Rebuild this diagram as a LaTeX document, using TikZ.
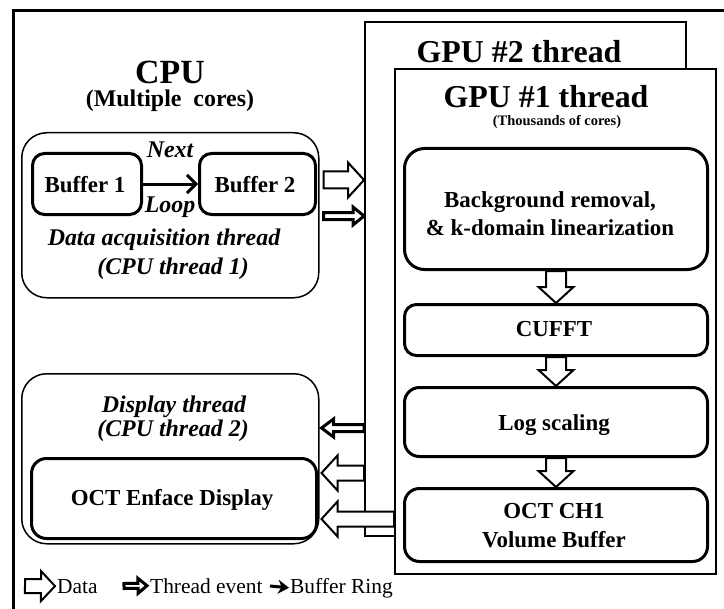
\documentclass[tikz,border=0pt]{standalone}
\usepackage{fontspec}
\setmainfont{Liberation Serif}
\usetikzlibrary{calc,arrows.meta}
\newcommand\blockarr[6]{% style, from, to, shaft half, head half, head length
  \path ($(#3)!#6!(#2)$) coordinate (bh);
  \draw[#1] ($(#2)!#4!90:(#3)$) -- ($(bh)!#4!90:(#3)$) -- ($(bh)!#5!90:(#3)$) -- (#3)
    -- ($(bh)!#5!-90:(#3)$) -- ($(bh)!#4!-90:(#3)$) -- ($(#2)!#4!-90:(#3)$) -- cycle;
}
\tikzset{
  tbox/.style={draw, line width=1.5bp, rounded corners=25bp, inner sep=0pt, anchor=north west},
  kbox/.style={draw, line width=3bp, inner sep=0pt, anchor=north west},
  gbox/.style={draw, line width=1.6bp, fill=white, inner sep=0pt, anchor=north west},
  fhuge/.style={font=\fontsize{34}{40}\selectfont\bfseries, anchor=base, inner sep=0pt},
  fgpu/.style={font=\fontsize{32}{38}\selectfont\bfseries, anchor=base, inner sep=0pt},
  fsub/.style={font=\fontsize{24}{28}\selectfont\bfseries, anchor=base, inner sep=0pt},
  ftiny/.style={font=\fontsize{14.5}{17}\selectfont\bfseries, anchor=base, inner sep=0pt},
  fbold/.style={font=\fontsize{23}{27}\selectfont\bfseries, anchor=base, inner sep=0pt},
  fital/.style={font=\fontsize{24}{28}\selectfont\bfseries\itshape, anchor=base, inner sep=0pt},
  flegend/.style={font=\fontsize{21.5}{25}\selectfont, anchor=base west, inner sep=0pt},
  dataar/.style={draw, fill=white, line width=2bp, line join=miter},
  evar/.style={draw, fill=white, line width=3bp, line join=miter},
}
\begin{document}
\begin{tikzpicture}[x=1bp,y=-1bp]
\useasboundingbox (0,0) rectangle (724,609);
% outer frame
\draw[line width=3bp] (13,11) rectangle (760,650);

% GPU thread frames
\node[gbox, minimum width=321bp, minimum height=514bp] (gpu2) at (364,21) {};
\node[gbox, minimum width=321bp, minimum height=505bp] (gpu1) at (394,68) {};
\node[fgpu] (g2t) at (519,63) {GPU \#2 thread};
\node[fgpu] (g1t) at (546,108) {GPU \#1 thread};
\node[ftiny] (g1s) at (557,126) {(Thousands of cores)};

% GPU processing boxes
\node[kbox, rounded corners=20bp, minimum width=303bp, minimum height=121bp] (bg) at (403,147) {};
\node[fbold] (bgt1) at (550,208) {Background removal,};
\node[fbold] (bgt2) at (550,235) {\& k-domain linearization};
\node[kbox, rounded corners=12bp, minimum width=303bp, minimum height=51bp] (cufft) at (403,303) {};
\node[fbold] (cufftt) at (554,336) {CUFFT};
\node[kbox, rounded corners=15bp, minimum width=303bp, minimum height=69bp] (log) at (403,386) {};
\node[fbold] (logt) at (554,430) {Log scaling};
\node[kbox, rounded corners=15bp, minimum width=303bp, minimum height=73bp] (vol) at (403,487) {};
\node[fbold] (volt1) at (554,518) {OCT CH1};
\node[fbold] (volt2) at (554,547) {Volume Buffer};

% CPU side
\node[fhuge] (cput) at (170,84) {CPU};
\node[fsub] (cpus) at (170,107) {(Multiple\ \ cores)};

\node[tbox, minimum width=297bp, minimum height=165bp] (acq) at (21,132) {};
\node[kbox, rounded corners=12bp, minimum width=109bp, minimum height=61bp] (buf1) at (31,152) {};
\node[kbox, rounded corners=12bp, minimum width=116bp, minimum height=61bp] (buf2) at (198,152) {};
\node[fbold] (buf1t) at (85,193) {Buffer 1};
\node[fbold] (buf2t) at (255,193) {Buffer 2};
\node[fital] (nextt) at (170,158) {Next};
\node[fital] (loopt) at (170,213) {Loop};
\node[fital] (acqt1) at (164,245) {Data acquisition thread};
\node[fital] (acqt2) at (173,274) {(CPU thread 1)};

\node[tbox, minimum width=297bp, minimum height=170bp] (disp) at (21,373) {};
\node[fital] (dispt1) at (174,412) {Display thread};
\node[fital] (dispt2) at (173,436) {(CPU thread 2)};
\node[kbox, rounded corners=15bp, minimum width=285bp, minimum height=80bp] (enf) at (30,457) {};
\node[fbold] (enft) at (172,505) {OCT Enface Display};

% buffer ring arrow
\draw[line width=3bp, -{Straight Barb[length=9bp,width=18bp]}] (buf1.east) -- (buf2.west);

% acquisition -> GPU
\coordinate (a1s) at ($(acq.east |- 0,180)+(4,0)$);
\coordinate (a1e) at (gpu2.west |- 0,180);
\blockarr{dataar}{a1s}{a1e}{8.5bp}{17.5bp}{16bp}
\coordinate (a2s) at ($(acq.east |- 0,216)+(4,0)$);
\coordinate (a2e) at (gpu2.west |- 0,216);
\blockarr{evar}{a2s}{a2e}{3.5bp}{9bp}{11bp}

% GPU -> display
\coordinate (b1s) at (gpu2.west |- 0,428);
\coordinate (b1e) at ($(disp.east |- 0,428)+(2,0)$);
\blockarr{evar}{b1s}{b1e}{3.5bp}{9bp}{12bp}
\coordinate (b2s) at (gpu2.west |- 0,473);
\coordinate (b2e) at ($(disp.east |- 0,473)+(2,0)$);
\blockarr{dataar}{b2s}{b2e}{7.5bp}{17.5bp}{16bp}
\coordinate (b3s) at (gpu1.west |- 0,519);
\coordinate (b3e) at ($(disp.east |- 0,519)+(2,0)$);
\blockarr{dataar}{b3s}{b3e}{7.5bp}{17.5bp}{16bp}

% GPU pipeline arrows
\blockarr{dataar}{bg.south}{cufft.north}{10bp}{17.5bp}{16bp}
\blockarr{dataar}{cufft.south}{log.north}{10bp}{17.5bp}{16bp}
\blockarr{dataar}{log.south}{vol.north}{10bp}{17.5bp}{16bp}

% legend
\node[flegend] (ldata) at (57,593) {Data};
\node[flegend] (levent) at (150,593) {Thread event};
\node[flegend] (lring) at (290,593) {Buffer Ring};
\coordinate (l1s) at (25,586);
\coordinate (l1e) at ($(ldata.west)+(-2,0)$);
\blockarr{dataar}{l1s}{l1e}{7bp}{15bp}{14bp}
\coordinate (l2s) at (124,586);
\coordinate (l2e) at ($(levent.west)+(-3,0)$);
\blockarr{evar}{l2s}{l2e}{2.5bp}{7.5bp}{9bp}
\coordinate (l3s) at (270,586);
\draw[line width=3bp, -{Stealth[length=11bp,width=14bp]}] (l3s) -- ($(lring.west)+(-1,0)$);
\end{tikzpicture}
\end{document}
